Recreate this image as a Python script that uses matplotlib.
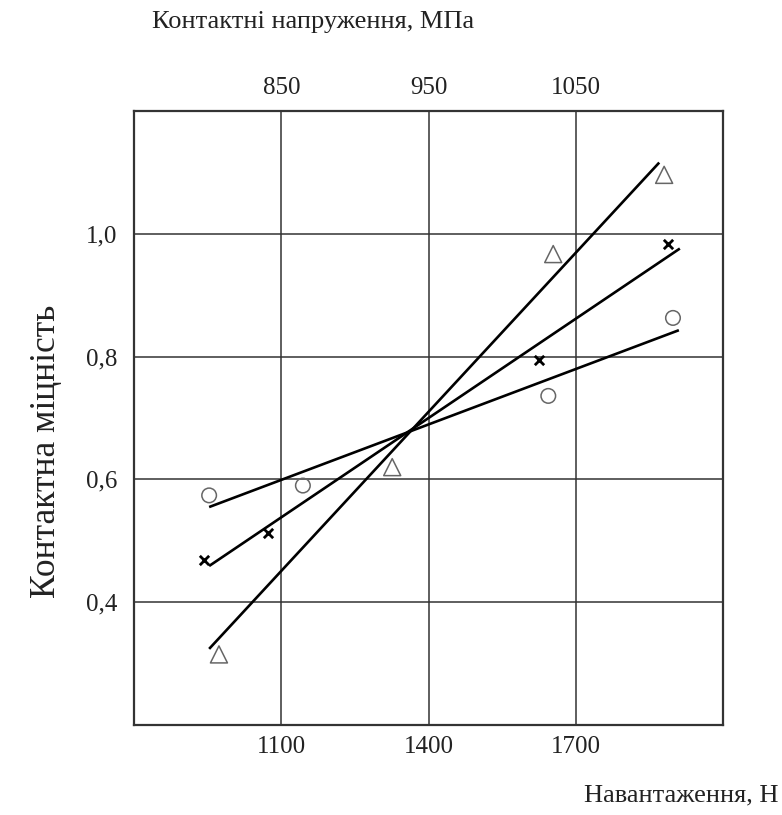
import matplotlib
matplotlib.use("Agg")
import matplotlib.pyplot as plt
from matplotlib.ticker import FuncFormatter

plt.rcParams['font.family'] = ['Liberation Serif', 'DejaVu Serif']

# measured points (load, N -> contact strength)
circle_x = [953, 1144, 1644, 1898]
circle_y = [0.574, 0.590, 0.736, 0.863]
cross_x = [943, 1073, 1625, 1888]
cross_y = [0.469, 0.512, 0.795, 0.984]
tri_x = [973, 1326, 1654, 1880]
tri_y = [0.315, 0.620, 0.967, 1.096]

# fitted lines (end points)
circle_line_x = [953, 1910]
circle_line_y = [0.555, 0.843]
cross_line_x = [953, 1912]
cross_line_y = [0.459, 0.976]
tri_line_x = [953, 1870]
tri_line_y = [0.324, 1.116]

load_ticks = [1100, 1400, 1700]
stress_ticks = [850, 950, 1050]
y_ticks = [0.4, 0.6, 0.8, 1.0]

fig = plt.figure(figsize=(7.82, 8.15), dpi=100)
ax = fig.add_axes([0.1714, 0.1104, 0.7532, 0.7534])

ax.set_xlim(800, 2000)
ax.set_ylim(0.2, 1.2)

for lx, ly in [(circle_line_x, circle_line_y), (cross_line_x, cross_line_y),
               (tri_line_x, tri_line_y)]:
    ax.plot(lx, ly, color='black', lw=1.9, solid_capstyle='butt', zorder=3)

ax.scatter(circle_x, circle_y, s=110, marker='o', facecolors='none',
           edgecolors='#666666', linewidths=1.1, zorder=4)
ax.scatter(cross_x, cross_y, s=45, marker='x', color='black',
           linewidths=2.0, zorder=4)
ax.scatter(tri_x, tri_y, s=150, marker='^', facecolors='none',
           edgecolors='#666666', linewidths=1.1, zorder=4)

ax.set_xticks(load_ticks)
ax.set_yticks(y_ticks)
ax.yaxis.set_major_formatter(FuncFormatter(lambda v, p: f"{v:.1f}".replace('.', ',')))
ax.grid(True, color='#333333', lw=1.1)
ax.set_axisbelow(True)
ax.tick_params(axis='y', length=0, labelsize=18, pad=12, colors='#222222')
ax.tick_params(axis='x', length=0, labelsize=18, pad=8, colors='#222222')
for sp in ax.spines.values():
    sp.set_linewidth(1.6)
    sp.set_color('#333333')

sec = ax.secondary_xaxis('top', functions=(lambda x: 850 + (x - 1100) / 3.0,
                                           lambda s: 1100 + 3.0 * (s - 850)))
sec.set_xticks(stress_ticks)
sec.tick_params(length=0, labelsize=18, pad=9, colors='#222222')
sec.spines['top'].set_visible(False)

fig.text(0.194, 0.973, "Контактні напруження, МПа", fontsize=19,
         ha='left', va='center', color='#222222')
fig.text(0.995, 0.024, "Навантаження, Н", fontsize=19,
         ha='right', va='center', color='#222222')
fig.text(0.059, 0.446, "Контактна міцність", fontsize=25.5, rotation=90,
         ha='center', va='center', color='#222222')

fig.savefig("out.png", dpi=100)
